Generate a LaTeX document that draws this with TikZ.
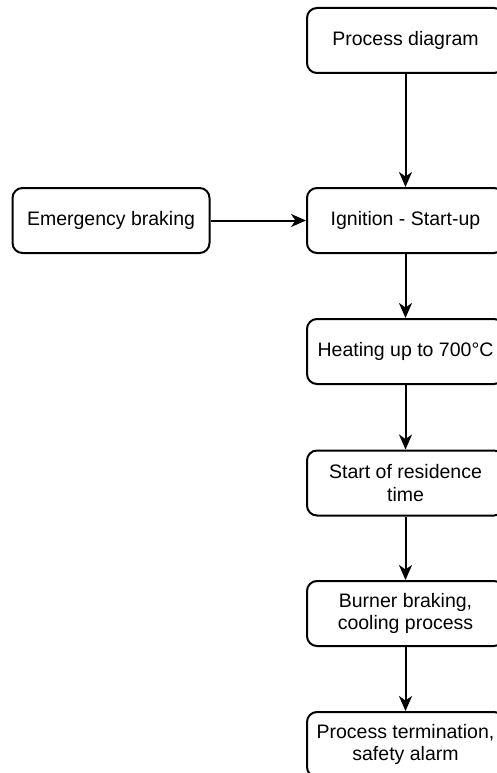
\documentclass[tikz,border=0pt]{standalone}
\usepackage{fontspec}
\setmainfont{Liberation Sans}
\usetikzlibrary{arrows.meta}
\begin{document}
\begin{tikzpicture}[x=1pt,y=-1pt,
  box/.style={draw=black,line width=2pt,rounded corners=10pt,minimum width=197pt,minimum height=65pt,
    align=center,inner sep=2pt,font=\fontsize{19.5}{22.5}\selectfont},
  conn/.style={line width=2pt,-{Stealth[length=15pt,width=13pt,inset=4.5pt]}}]
\useasboundingbox (0,0) rectangle (497,773);
\node[box] (pd) at (405.5,40.5) {Process diagram};
\node[box] (ig) at (405.5,220.5) {Ignition - Start-up};
\node[box] (eb) at (111,220.5) {Emergency braking};
\node[box] (ht) at (405.5,351.5) {Heating up to 700°C};
\node[box] (rt) at (405.5,483) {Start of residence\\time};
\node[box] (bb) at (405.5,613.5) {Burner braking,\\cooling process};
\node[box] (pt) at (405.5,744.5) {Process termination,\\safety alarm};
\draw[conn] (pd) -- (ig);
\draw[conn] (eb) -- (ig);
\draw[conn] (ig) -- (ht);
\draw[conn] (ht) -- (rt);
\draw[conn] (rt) -- (bb);
\draw[conn] (bb) -- (pt);
\end{tikzpicture}
\end{document}
